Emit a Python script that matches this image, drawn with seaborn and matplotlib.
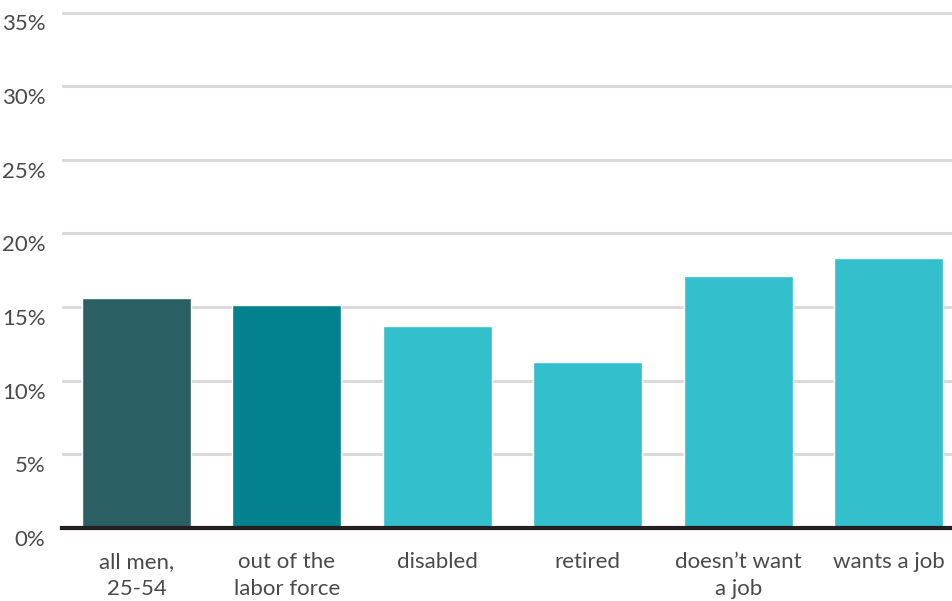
import matplotlib
matplotlib.use("Agg")
import matplotlib.pyplot as plt
import matplotlib.transforms as mtransforms
import seaborn as sns
import pandas as pd

categories = ["all men,\n25-54", "out of the\nlabor force", "disabled",
              "retired", "doesn\u2019t want\na job", "wants a job"]
values = [15.6, 15.15, 13.7, 11.3, 17.1, 18.3]
colors = ["#2a5f64", "#03818c", "#33bfcb", "#33bfcb", "#33bfcb", "#33bfcb"]
ytick_values = [0, 5, 10, 15, 20, 25, 30, 35]
ytick_labels = ["0%", "5%", "10%", "15%", "20%", "25%", "30%", "35%"]

sns.set_theme(style="white")
plt.rcParams["font.family"] = ["Lato", "DejaVu Sans"]

df = pd.DataFrame({"group": categories, "share": values})

fig = plt.figure(figsize=(9.52, 6.01), dpi=100)
ax = fig.add_axes([62 / 952, (601 - 528) / 601, 1 - 62 / 952, (528 - 10) / 601])

sns.barplot(data=df, x="group", y="share", hue="group", palette=colors,
            legend=False, width=0.725, saturation=1, ax=ax, zorder=3)

ax.set_ylim(0, 35 * (528 - 10) / (528 - 12.5))
ax.set_xlim(-0.495, 5.42)
ax.set_yticks(ytick_values)
ax.set_yticklabels(ytick_labels)
ax.yaxis.grid(True, color="#dadada", linewidth=2.2, zorder=0)
ax.xaxis.grid(False)
for s in ["top", "right", "left"]:
    ax.spines[s].set_visible(False)
ax.spines["bottom"].set_color("#231f20")
ax.spines["bottom"].set_linewidth(3)
ax.spines["bottom"].set_zorder(5)
ax.set_xlabel("")
ax.set_ylabel("")
ax.tick_params(axis="both", length=0)
ax.tick_params(axis="y", pad=12, labelsize=16, labelcolor="#4a4a4a")
ax.tick_params(axis="x", pad=17, labelsize=16, labelcolor="#4a4a4a")

for lab in ax.get_yticklabels():
    lab.set_fontweight("normal")
    lab.set_transform(lab.get_transform() + mtransforms.ScaledTranslation(0, -10 / 100, fig.dpi_scale_trans))
for lab in ax.get_xticklabels():
    lab.set_fontweight("normal")
    lab.set_linespacing(1.45)

fig.savefig("out.png", dpi=100)
